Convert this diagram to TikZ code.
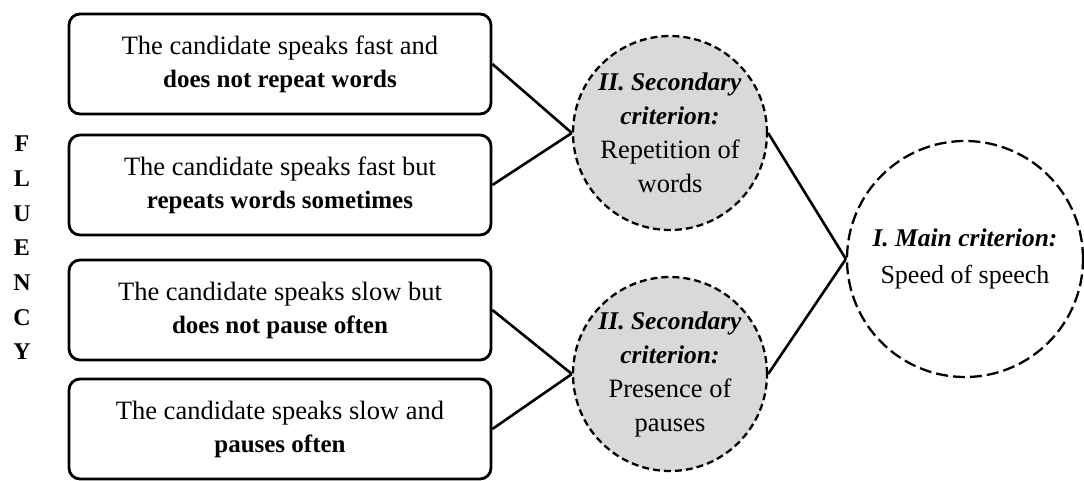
\documentclass[tikz,border=0pt]{standalone}
\usepackage{fontspec}
\setmainfont{Liberation Serif}
\newcommand{\bdtxt}[1]{{\fontsize{25}{33}\selectfont\bfseries #1}}
\newcommand{\bitxt}[1]{{\fontsize{25.5}{34}\selectfont\bfseries\itshape #1}}
\begin{document}
\begin{tikzpicture}[x=1pt,y=-1pt,
  critbox/.style={draw=black, line width=2.8pt, rounded corners=11pt, minimum width=422pt, minimum height=100pt, inner sep=0pt, align=center, font=\fontsize{26.5}{33}\selectfont},
  seccirc/.style={circle, draw=black, fill=black!15, line width=2.3pt, dash pattern=on 7pt off 4pt, minimum size=194pt, inner sep=0pt, align=center, font=\fontsize{26.5}{34}\selectfont},
  maincirc/.style={circle, draw=black, fill=white, line width=2.3pt, dash pattern=on 12pt off 5pt, minimum size=236pt, inner sep=0pt, align=center, font=\fontsize{26}{37}\selectfont},
  link/.style={draw=black, line width=2.6pt},
  side/.style={align=center, font=\bfseries\fontsize{24}{34.7}\selectfont, inner sep=0pt}]
\useasboundingbox (0,0) rectangle (1084,480);
\fill[white] (0,0) rectangle (1084,480);

\node[critbox] (b1) at (280,64) {The candidate speaks fast and\\\bdtxt{does not repeat words}};
\node[critbox] (b2) at (280,185) {The candidate speaks fast but\\\bdtxt{repeats words sometimes}};
\node[critbox] (b3) at (280,310) {The candidate speaks slow but\\\bdtxt{does not pause often}};
\node[critbox] (b4) at (280,429) {The candidate speaks slow and\\\bdtxt{pauses often}};

\node[seccirc] (c1) at (670,133) {\bitxt{II. Secondary}\\\bitxt{criterion:}\\Repetition of\\words};
\node[seccirc] (c2) at (670,374) {\bitxt{II. Secondary}\\\bitxt{criterion:}\\Presence of\\pauses};

\node[maincirc] (m) at (965,259) {\bitxt{I. Main criterion:}\\Speed of speech};

\node[side] (flu) at (22,248) {F\\L\\U\\E\\N\\C\\Y};

\path[link] (b1.east) -- (c1.west);
\path[link] (b2.east) -- (c1.west);
\path[link] (b3.east) -- (c2.west);
\path[link] (b4.east) -- (c2.west);
\path[link] (c1.east) -- (m.west);
\path[link] (c2.east) -- (m.west);
\end{tikzpicture}
\end{document}
